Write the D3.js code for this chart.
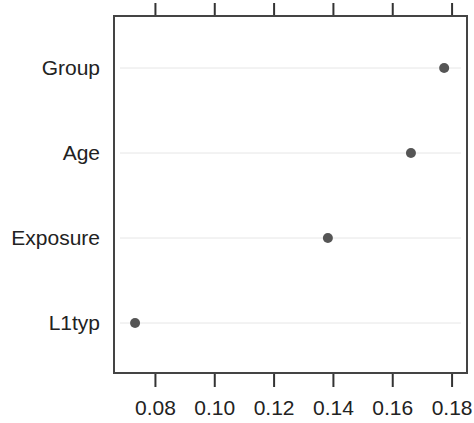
<!DOCTYPE html>
<html>
<head>
<meta charset="utf-8">
<script src="https://cdn.jsdelivr.net/npm/d3@7"></script>
<style>
  body { margin: 0; background: #fff; }
  text { font-family: "Liberation Sans", Arial, sans-serif; }
</style>
</head>
<body>
<div id="chart"></div>
<script>
// variable importance values
const variables = ["Group", "Age", "Exposure", "L1typ"];
const importance = [0.1775, 0.1663, 0.1383, 0.0733];
const tickValues = [0.08, 0.10, 0.12, 0.14, 0.16, 0.18];

const width = 474;
const height = 423;
const box = { left: 114, right: 467, top: 16, bottom: 373 };

const svg = d3.select("#chart")
    .append("svg")
    .attr("width", width)
    .attr("height", height);

const x = d3.scaleLinear()
    .domain([0.0662, 0.1852])
    .range([box.left, box.right]);

const y = d3.scalePoint()
    .domain(variables)
    .range([68, 323]);

// light grid lines for each row
svg.selectAll(".grid")
    .data(variables)
    .enter()
    .append("line")
    .attr("x1", box.left + 6)
    .attr("x2", box.right - 6)
    .attr("y1", d => y(d))
    .attr("y2", d => y(d))
    .attr("stroke", "#e6e6e6")
    .attr("stroke-width", 1);

// points
svg.selectAll(".dot")
    .data(variables)
    .enter()
    .append("circle")
    .attr("cx", (d, i) => x(importance[i]))
    .attr("cy", d => y(d))
    .attr("r", 5)
    .attr("fill", "#555");

// bottom axis
const bottomAxis = svg.append("g")
    .attr("transform", `translate(0,${box.bottom})`)
    .call(d3.axisBottom(x).tickValues(tickValues).tickFormat(d3.format(".2f")).tickSize(14).tickSizeOuter(0));
bottomAxis.select(".domain").remove();
bottomAxis.selectAll("line").attr("stroke", "#333").attr("stroke-width", 2);
bottomAxis.selectAll("text")
    .attr("y", 27)
    .attr("fill", "#222")
    .style("font-size", "21px");

// top axis, ticks only
const topAxis = svg.append("g")
    .attr("transform", `translate(0,${box.top})`)
    .call(d3.axisTop(x).tickValues(tickValues).tickFormat("").tickSize(13).tickSizeOuter(0));
topAxis.select(".domain").remove();
topAxis.selectAll("line").attr("stroke", "#333").attr("stroke-width", 2);

// left axis labels
const leftAxis = svg.append("g")
    .attr("transform", `translate(${box.left},0)`)
    .call(d3.axisLeft(y).tickSize(0).tickPadding(14));
leftAxis.select(".domain").remove();
leftAxis.selectAll("text")
    .attr("fill", "#222")
    .style("font-size", "21px");

// frame
svg.append("rect")
    .attr("x", box.left)
    .attr("y", box.top)
    .attr("width", box.right - box.left)
    .attr("height", box.bottom - box.top)
    .attr("fill", "none")
    .attr("stroke", "#444")
    .attr("stroke-width", 2);
</script>
</body>
</html>
